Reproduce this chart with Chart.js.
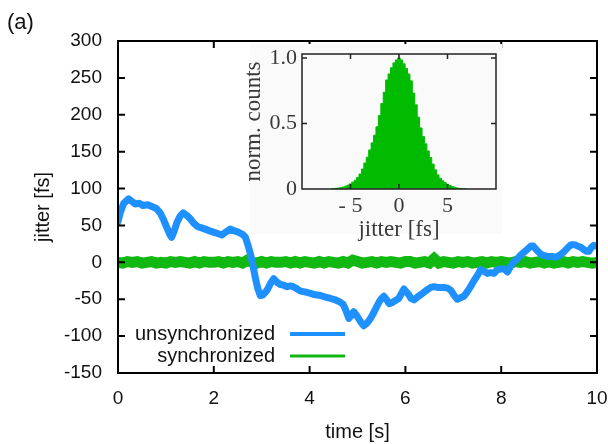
<!DOCTYPE html>
<html><head><meta charset="utf-8">
<script src="https://cdn.jsdelivr.net/npm/chart.js@4.4.0/dist/chart.umd.min.js"></script>
<style>
html,body{margin:0;padding:0;background:#fff;}
#wrap{position:relative;width:608px;height:444px;overflow:hidden;}
#main{position:absolute;left:0;top:0;}
#inset{position:absolute;left:240px;top:40px;}
#lab{position:absolute;left:7px;top:10px;font:22px "Liberation Sans",Arial,sans-serif;line-height:24px;color:#111;}
</style></head><body>
<div id="wrap">
<canvas id="main" width="608" height="444"></canvas>
<canvas id="inset" width="262" height="210"></canvas>
<div id="lab">(a)</div>
</div>
<script>
// ---- main plot data ----
const xTickValues = [0, 2, 4, 6, 8, 10];
const xTickLabels = ['0', '2', '4', '6', '8', '10'];
const yTickValues = [-150, -100, -50, 0, 50, 100, 150, 200, 250, 300];
const yTickLabels = ['-150', '-100', '-50', '0', '50', '100', '150', '200', '250', '300'];

const blueT = [0.00,0.05,0.12,0.22,0.30,0.36,0.45,0.52,0.62,0.73,0.80,0.88,0.95,1.02,1.08,1.12,1.17,1.23,1.30,1.36,
  1.43,1.51,1.58,1.65,1.73,1.82,1.90,1.99,2.08,2.17,2.25,2.34,2.42,2.51,2.60,2.66,2.72,2.77,2.82,2.87,
  2.92,2.97,3.03,3.11,3.18,3.25,3.32,3.39,3.46,3.53,3.60,3.66,3.74,3.81,3.90,4.02,4.12,4.23,4.33,4.44,
  4.54,4.64,4.70,4.75,4.82,4.87,4.92,4.98,5.03,5.08,5.13,5.19,5.24,5.29,5.34,5.40,5.45,5.50,5.55,5.61,
  5.66,5.71,5.76,5.81,5.86,5.92,5.97,6.02,6.07,6.12,6.18,6.25,6.32,6.38,6.46,6.53,6.60,6.67,6.74,6.80,
  6.88,6.95,7.02,7.08,7.15,7.22,7.29,7.36,7.43,7.50,7.57,7.64,7.71,7.78,7.85,7.92,7.99,8.06,8.13,8.20,
  8.27,8.34,8.41,8.48,8.55,8.62,8.67,8.72,8.78,8.83,8.90,8.97,9.05,9.12,9.18,9.25,9.32,9.39,9.46,9.53,
  9.60,9.67,9.73,9.78,9.83,9.88,9.93,10.0];
const blueV = [55,68,80,86,82,79,80,77,78,75,73,67,58,47,38,34,42,54,63,67,
  64,59,53,49,47,45,43,41,39,37,41,45,43,41,38,34,22,10,-5,-22,
  -36,-45,-44,-38,-29,-22,-27,-30,-31,-33,-32,-33,-36,-39,-40,-42,-44,-45,-47,-49,
  -51,-54,-57,-64,-76,-72,-67,-72,-77,-82,-86,-83,-79,-74,-68,-60,-54,-49,-46,-51,
  -56,-55,-53,-51,-49,-42,-36,-40,-44,-49,-51,-47,-44,-41,-37,-34,-33,-34,-34,-34,
  -35,-38,-45,-50,-48,-46,-40,-33,-25,-18,-10,-12,-15,-14,-15,-10,-9,-9,-13,-5,
  1,5,10,14,18,22,22,18,14,11,9,8,8,7,8,11,15,20,24,24,
  22,20,17,15,15,20,23,22];

const greenStep = 0.1; // sampling interval [s]
const greenV = [0,-1,1,0,1,-1,0,1,-1,0, -1,1,0,1,0,-1,1,-1,1,0,
  0,1,-1,1,0,1,-1,3,0,-1, 1,-1,1,0,0,1,-1,1,-1,1,
  0,-1,1,-1,1,0,-1,1,-1,3, 1,-1,0,1,-1,1,0,1,0,-1,
  1,1,-1,0,1,-1,5,-1,1,0, -1,1,0,1,-1,0,1,-1,1,0,
  1,0,-1,1,0,1,-1,0,1,-1, 1,-1,0,1,-1,1,0,1,0,-1, 0];

// ---- inset histogram data ----
const histStart = -7.0, histBin = 0.25;
const histCounts = [0.002,0.003,0.005,0.007,0.010,0.015,0.021,0.029,0.039,0.052,
  0.066,0.088,0.114,0.152,0.198,0.243,0.298,0.352,0.410,0.474,
  0.560,0.652,0.738,0.832,0.878,0.925,0.962,0.985,1.000,0.985,
  0.955,0.920,0.878,0.825,0.732,0.642,0.548,0.466,0.400,0.345,
  0.290,0.240,0.190,0.146,0.108,0.082,0.063,0.048,0.036,0.026,
  0.019,0.013,0.008,0.005,0.003,0.002,0.001];
const insetXTickValues = [-5, 0, 5];
const insetXTickLabels = ['- 5', '0', '5'];
const insetYTickValues = [0, 0.5, 1.0];
const insetYTickLabels = ['0', '0.5', '1.0'];

const BLUE = '#1e90ff', GREEN = '#12b812', HGREEN = '#00bb00';
const SANS = '"Liberation Sans", Arial, sans-serif';
const SERIF = '"Liberation Serif", "Times New Roman", serif';

Chart.defaults.font.family = SANS;

const frameTicks = {
  id: 'frameTicks',
  afterDatasetsDraw(chart, args, o) {
    const {ctx, chartArea: a, scales} = chart;
    ctx.save();
    ctx.strokeStyle = o.color;
    ctx.lineWidth = o.tickWidth;
    ctx.beginPath();
    scales.x.ticks.forEach(t => {
      const px = scales.x.getPixelForValue(t.value);
      if (px <= a.left + 1 || px >= a.right - 1) return;
      ctx.moveTo(px, a.bottom); ctx.lineTo(px, a.bottom - o.len);
      ctx.moveTo(px, a.top); ctx.lineTo(px, a.top + o.len);
    });
    scales.y.ticks.forEach(t => {
      const py = scales.y.getPixelForValue(t.value);
      if (py <= a.top + 1 || py >= a.bottom - 1) return;
      ctx.moveTo(a.left, py); ctx.lineTo(a.left + o.len, py);
      ctx.moveTo(a.right, py); ctx.lineTo(a.right - o.len, py);
    });
    ctx.stroke();
    ctx.lineWidth = o.width;
    ctx.strokeRect(a.left, a.top, a.right - a.left, a.bottom - a.top);
    ctx.restore();
  }
};

const sideLegend = {
  id: 'sideLegend',
  afterDatasetsDraw(chart, args, o) {
    const ctx = chart.ctx;
    ctx.save();
    ctx.font = o.font;
    ctx.textAlign = 'right';
    ctx.textBaseline = 'middle';
    ctx.fillStyle = o.textColor;
    chart.data.datasets.forEach((ds, i) => {
      const y = o.y + i * o.rowGap;
      ctx.fillText(ds.label, o.textRight, y);
      ctx.strokeStyle = ds.borderColor;
      ctx.lineWidth = o.lineWidth[i];
      ctx.beginPath(); ctx.moveTo(o.lineStart, y); ctx.lineTo(o.lineEnd, y); ctx.stroke();
    });
    ctx.restore();
  }
};

const insetBg = {
  id: 'insetBg',
  beforeDraw(chart, args, o) {
    const ctx = chart.ctx;
    ctx.save();
    ctx.fillStyle = o.color;
    ctx.fillRect(o.x, o.y, o.w, o.h);
    ctx.restore();
  }
};

const noPadX = s => { s.paddingLeft = 0; s.paddingRight = 0; };
const noPadY = s => { s.paddingTop = 0; s.paddingBottom = 0; };

new Chart(document.getElementById('main'), {
  type: 'line',
  data: {
    datasets: [
      { label: 'unsynchronized', data: blueT.map((t, i) => ({x: t, y: blueV[i]})),
        borderColor: BLUE, backgroundColor: BLUE, borderWidth: 7, pointRadius: 0,
        borderJoinStyle: 'round', borderCapStyle: 'round', tension: 0 },
      { label: 'synchronized', data: greenV.map((v, i) => ({x: i * greenStep, y: v})),
        borderColor: GREEN, backgroundColor: GREEN, borderWidth: 11, pointRadius: 0, tension: 0 }
    ]
  },
  options: {
    responsive: false, animation: false, devicePixelRatio: 1,
    layout: { padding: { left: 0, top: 41, right: 11, bottom: 0 } },
    plugins: {
      legend: { display: false }, tooltip: { enabled: false },
      frameTicks: { color: '#000', width: 2, tickWidth: 2, len: 7 },
      sideLegend: { font: '20px ' + SANS, textColor: '#111', textRight: 275, y: 334, rowGap: 22,
        lineStart: 290, lineEnd: 345, lineWidth: [4, 3] }
    },
    scales: {
      x: {
        type: 'linear', min: 0, max: 10,
        afterBuildTicks: s => { s.ticks = xTickValues.map(v => ({value: v})); },
        afterFit: s => { s.height = 71; noPadX(s); },
        grid: { display: false, drawTicks: false }, border: { display: false },
        ticks: { font: { size: 19 }, color: '#111', padding: 14, maxRotation: 0, autoSkip: false,
          callback: (v, i) => xTickLabels[i] },
        title: { display: true, text: 'time [s]', font: { size: 20 }, color: '#111', padding: { top: 0, bottom: 0 } }
      },
      y: {
        type: 'linear', min: -150, max: 300,
        afterBuildTicks: s => { s.ticks = yTickValues.map(v => ({value: v})); },
        afterFit: s => { s.width = 118; noPadY(s); },
        grid: { display: false, drawTicks: false }, border: { display: false },
        ticks: { font: { size: 19 }, color: '#111', padding: 16, autoSkip: false,
          callback: (v, i) => yTickLabels[i] },
        title: { display: true, text: 'jitter [fs]', font: { size: 20 }, color: '#111', padding: { top: 31, bottom: 0 } }
      }
    }
  },
  plugins: [frameTicks, sideLegend]
});

new Chart(document.getElementById('inset'), {
  type: 'line',
  data: {
    datasets: [{ label: 'histogram',
      data: histCounts.map((c, i) => ({x: histStart + i * histBin, y: c})),
      stepped: 'middle', fill: 'origin', backgroundColor: HGREEN, borderColor: HGREEN,
      borderWidth: 1, pointRadius: 0 }]
  },
  options: {
    responsive: false, animation: false, devicePixelRatio: 1,
    layout: { padding: { left: 0, top: 14, right: 6, bottom: 0 } },
    plugins: {
      legend: { display: false }, tooltip: { enabled: false },
      frameTicks: { color: '#222', width: 1.5, tickWidth: 1.5, len: 5 },
      insetBg: { color: '#fafafa', x: 10, y: 4, w: 252, h: 190 }
    },
    scales: {
      x: {
        type: 'linear', min: -10, max: 10,
        afterBuildTicks: s => { s.ticks = insetXTickValues.map(v => ({value: v})); },
        afterFit: s => { s.height = 61; noPadX(s); },
        grid: { display: false, drawTicks: false }, border: { display: false },
        ticks: { font: { family: SERIF, size: 22 }, color: '#3a3a3a', padding: 4, maxRotation: 0, autoSkip: false,
          callback: (v, i) => insetXTickLabels[i] },
        title: { display: true, text: 'jitter [fs]', font: { family: SERIF, size: 23 }, color: '#3a3a3a',
          padding: { top: 0, bottom: 6 } }
      },
      y: {
        type: 'linear', min: 0, max: 1.03,
        afterBuildTicks: s => { s.ticks = insetYTickValues.map(v => ({value: v})); },
        afterFit: s => { s.width = 62; noPadY(s); },
        grid: { display: false, drawTicks: false }, border: { display: false },
        ticks: { font: { family: SERIF, size: 22 }, color: '#3a3a3a', padding: 5, autoSkip: false,
          callback: (v, i) => insetYTickLabels[i] },
        title: { display: true, text: 'norm. counts', font: { family: SERIF, size: 23 }, color: '#3a3a3a',
          padding: { top: 0, bottom: 0 } }
      }
    }
  },
  plugins: [insetBg, frameTicks]
});
</script>
</body></html>
